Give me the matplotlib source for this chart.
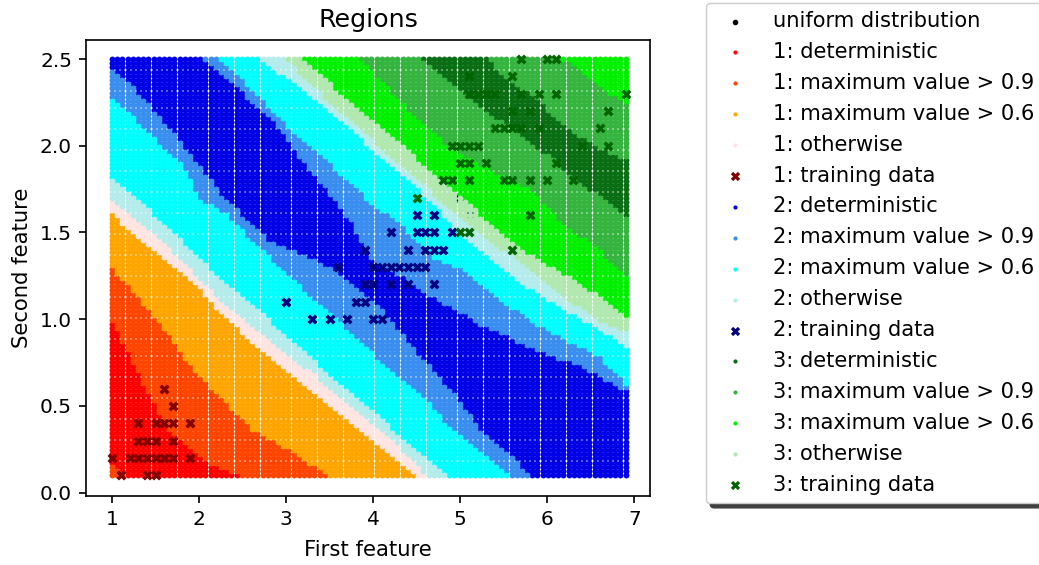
import numpy as np
from matplotlib import pyplot as plt

# Training data
setosa_x = [1.4, 1.3, 1.5, 1.7, 1.5, 1.6, 1.4, 1.1, 1.2, 1.5, 1.3, 1.4, 1.7, 1.5, 1.7, 1.0, 1.7, 1.9, 1.6, 1.6, 1.3, 1.6, 1.9]
setosa_y = [0.2, 0.2, 0.2, 0.4, 0.1, 0.2, 0.1, 0.1, 0.2, 0.4, 0.4, 0.3, 0.3, 0.3, 0.2, 0.2, 0.5, 0.2, 0.4, 0.6, 0.3, 0.2, 0.4]
versicolor_x = [4.7, 4.5, 4.9, 4.0, 4.6, 4.5, 4.7, 3.3, 4.6, 3.9, 3.5, 4.2, 4.0, 3.6, 4.4, 4.1, 3.9, 4.8, 4.7, 4.3, 4.8, 5.0, 3.8, 3.7, 3.9, 5.1, 4.5, 4.7, 4.4, 4.1, 4.4, 4.6, 4.0, 4.2, 4.2, 3.0]
versicolor_y = [1.4, 1.5, 1.5, 1.3, 1.5, 1.3, 1.6, 1.0, 1.3, 1.4, 1.0, 1.5, 1.0, 1.3, 1.4, 1.0, 1.1, 1.8, 1.2, 1.3, 1.4, 1.7, 1.1, 1.0, 1.2, 1.6, 1.6, 1.5, 1.3, 1.3, 1.2, 1.4, 1.2, 1.3, 1.2, 1.1]
virginica_x = [6.0, 5.1, 5.9, 5.6, 5.8, 6.6, 4.5, 6.3, 5.8, 6.1, 5.1, 5.3, 5.5, 5.0, 5.1, 5.3, 5.5, 6.7, 6.9, 5.0, 5.7, 4.9, 6.7, 4.9, 5.7, 6.0, 4.8, 5.6, 5.8, 6.1, 6.4, 5.6, 5.1, 5.6, 6.1, 5.6, 5.4, 5.1, 5.9, 5.7, 5.2, 5.0, 5.2, 5.4, 5.1]
virginica_y = [2.5, 1.9, 2.1, 1.8, 2.2, 2.1, 1.7, 1.8, 1.8, 2.5, 2.0, 1.9, 2.1, 2.0, 2.4, 2.3, 1.8, 2.2, 2.3, 1.5, 2.3, 2.0, 2.0, 1.8, 2.1, 1.8, 1.8, 2.1, 1.6, 1.9, 2.0, 2.2, 1.5, 1.4, 2.3, 2.4, 2.1, 2.3, 2.3, 2.5, 2.3, 1.9, 2.0, 2.3, 1.8]

# Where the colours change, x read at a few y values, going across the plot
edge_1_y = [1.01, 0.75, 0.55, 0.36, 0.17, 0.10]
edge_1_x = [0.98, 1.23, 1.44, 1.63, 2.13, 2.44]
edge_2_y = [1.30, 1.13, 0.94, 0.75, 0.55, 0.36, 0.29, 0.11, 0.10]
edge_2_x = [0.98, 1.29, 1.61, 1.87, 2.24, 2.62, 2.90, 3.45, 3.50]
edge_3_y = [1.62, 1.42, 1.23, 1.04, 0.94, 0.77, 0.59, 0.40, 0.21, 0.10]
edge_3_x = [0.98, 1.40, 1.90, 2.24, 2.45, 2.82, 3.28, 3.77, 4.23, 4.46]
edge_4_y = [1.70, 1.52, 1.33, 1.13, 0.94, 0.84, 0.69, 0.49, 0.30, 0.10]
edge_4_x = [0.98, 1.44, 1.82, 2.21, 2.64, 2.90, 3.31, 3.76, 4.23, 4.62]
edge_5_y = [1.81, 1.62, 1.42, 1.23, 1.04, 0.88, 0.69, 0.49, 0.30, 0.10]
edge_5_x = [0.98, 1.44, 1.86, 2.24, 2.70, 3.05, 3.47, 3.97, 4.34, 4.85]
edge_6_y = [2.29, 2.08, 1.88, 1.69, 1.62, 1.42, 1.29, 0.88, 0.69, 0.49, 0.36, 0.11, 0.10]
edge_6_x = [0.98, 1.40, 1.82, 1.99, 2.28, 2.67, 2.93, 3.83, 4.20, 4.69, 4.89, 5.54, 5.58]
edge_7_y = [2.46, 2.27, 2.08, 1.88, 1.69, 1.44, 1.34, 1.27, 1.17, 1.05, 0.85, 0.59, 0.34, 0.23, 0.10]
edge_7_x = [0.98, 1.36, 1.69, 2.01, 2.30, 2.82, 3.31, 3.59, 3.82, 4.11, 4.43, 4.89, 5.26, 5.54, 5.80]
edge_8_y = [2.50, 2.37, 2.17, 2.10, 1.98, 1.79, 1.56, 1.34, 1.24, 1.13, 1.04, 0.96, 0.90, 0.81, 0.75, 0.67, 0.59]
edge_8_x = [2.03, 2.36, 2.78, 2.93, 3.08, 3.39, 3.74, 3.97, 4.34, 4.66, 5.00, 5.26, 5.54, 5.92, 6.30, 6.61, 6.90]
edge_9_y = [2.50, 2.37, 2.17, 1.98, 1.79, 1.69, 1.56, 1.36, 1.29, 1.15, 1.00, 0.86, 0.78, 0.63]
edge_9_x = [2.24, 2.51, 2.90, 3.31, 3.74, 3.93, 4.28, 4.69, 5.00, 5.38, 5.77, 6.30, 6.61, 6.90]
edge_10_y = [2.50, 2.27, 2.08, 1.88, 1.67, 1.48, 1.34, 1.19, 1.07, 0.96, 0.85]
edge_10_x = [2.72, 3.31, 3.77, 4.23, 4.69, 5.00, 5.38, 5.77, 6.15, 6.53, 6.90]
edge_11_y = [2.50, 2.37, 2.17, 1.98, 1.79, 1.59, 1.44, 1.30, 1.15, 1.01, 0.93]
edge_11_x = [3.01, 3.24, 3.70, 4.11, 4.54, 5.00, 5.38, 5.77, 6.15, 6.53, 6.90]
edge_12_y = [2.50, 2.37, 2.17, 1.98, 1.79, 1.71, 1.53, 1.38, 1.27, 1.15, 1.01]
edge_12_x = [3.18, 3.47, 3.93, 4.39, 4.77, 5.00, 5.38, 5.77, 6.15, 6.53, 6.90]
edge_13_y = [2.50, 2.17, 1.98, 1.81, 1.73, 1.56, 1.42, 1.25]
edge_13_x = [3.85, 4.46, 4.89, 5.54, 5.84, 6.15, 6.53, 6.90]
edge_14_y = [2.50, 2.38, 2.29, 2.05, 1.92, 1.81, 1.73, 1.60]
edge_14_x = [4.54, 4.85, 5.03, 5.72, 6.07, 6.30, 6.53, 6.90]
edge_15_y = [2.50, 2.38, 2.29, 2.19, 2.10, 2.00, 1.92]
edge_15_x = [5.31, 5.54, 5.84, 6.03, 6.26, 6.53, 6.90]
edge_16_y = [2.50, 2.24]
edge_16_x = [6.18, 6.90]
# Small orange corner at the bottom left
corner_y = [0.10, 0.15, 0.16]
corner_x = [1.17, 1.02, 0.90]

edges = [(edge_1_x, edge_1_y), (edge_2_x, edge_2_y), (edge_3_x, edge_3_y), (edge_4_x, edge_4_y),
         (edge_5_x, edge_5_y), (edge_6_x, edge_6_y), (edge_7_x, edge_7_y), (edge_8_x, edge_8_y),
         (edge_9_x, edge_9_y), (edge_10_x, edge_10_y), (edge_11_x, edge_11_y), (edge_12_x, edge_12_y),
         (edge_13_x, edge_13_y), (edge_14_x, edge_14_y), (edge_15_x, edge_15_y), (edge_16_x, edge_16_y)]

# Class and band for every strip between two edges
band_1 = {"deterministic": [0], "maximum value > 0.9": [1], "maximum value > 0.6": [2], "otherwise": [3]}
band_2 = {"deterministic": [7], "maximum value > 0.9": [6, 8], "maximum value > 0.6": [5, 9], "otherwise": [4, 10]}
band_3 = {"deterministic": [14], "maximum value > 0.9": [13, 15], "maximum value > 0.6": [12, 16], "otherwise": [11]}

colors_1 = ["#ff0000", "#ff4500", "#ffa500", "#ffe4e1"]
colors_2 = ["#0000e6", "#3a8ef0", "#00ffff", "#b4ecec"]
colors_3 = ["#0a6e14", "#35b540", "#00f000", "#b0e8b0"]
train_colors = ["#800000", "#000080", "#006400"]

# The classifier was evaluated on a 100 x 100 grid
gx, gy = np.meshgrid(np.linspace(1, 6.9, 100), np.linspace(0.1, 2.5, 100))
gx = gx.ravel()
gy = gy.ravel()

strip = np.zeros(gx.size, dtype=int)
for ex, ey in edges:
    # np.interp wants y going up, the lists go down
    strip += gx > np.interp(gy, ey[::-1], ex[::-1])
strip[gx < np.interp(gy, corner_y, corner_x)] = 1

plt.rcParams["font.size"] = 15
plt.rcParams["axes.linewidth"] = 1.2
fig = plt.figure(figsize=(10.39, 5.65), dpi=100)
ax = fig.add_axes([86 / 1039, 1 - 496 / 565, 564 / 1039, 456 / 565])

ax.scatter([], [], color="black", s=14, label="uniform distribution")

classes = [(band_1, colors_1, setosa_x, setosa_y),
           (band_2, colors_2, versicolor_x, versicolor_y),
           (band_3, colors_3, virginica_x, virginica_y)]
for i, (bands, colors, tx, ty) in enumerate(classes):
    for (name, strips), color in zip(bands.items(), colors):
        mask = np.isin(strip, strips)
        ax.scatter(gx[mask], gy[mask], color=color, s=18, linewidths=0, snap=False, label=f"{i + 1}: {name}")
    ax.scatter(tx, ty, color=train_colors[i], marker="X", s=52, linewidths=0, label=f"{i + 1}: training data")

ax.set_xlim(0.70, 7.18)
ax.set_ylim(-0.02, 2.61)
ax.set_xticks([1, 2, 3, 4, 5, 6, 7])
ax.set_yticks([0.0, 0.5, 1.0, 1.5, 2.0, 2.5])
ax.tick_params(length=5, width=1.2, pad=5, labelsize=14.5)
ax.set_title("Regions", fontsize=18.3, pad=9)
ax.set_xlabel("First feature", fontsize=15.2, labelpad=8)
ax.set_ylabel("Second feature", fontsize=15.2, labelpad=6)

leg = ax.legend(loc="lower left", bbox_to_anchor=(706 / 1039, 1 - 503 / 565), bbox_transform=fig.transFigure,
                borderaxespad=0, fontsize=15.1, labelspacing=0.52, handletextpad=0.8, borderpad=0.4,
                shadow={"color": "#404040", "alpha": 1, "ox": 3, "oy": -3.5})
for handle, text in zip(leg.legend_handles, leg.get_texts()):
    handle.set_sizes([45 if "training" in text.get_text() else 9])

fig.savefig("out.png", dpi=100)
